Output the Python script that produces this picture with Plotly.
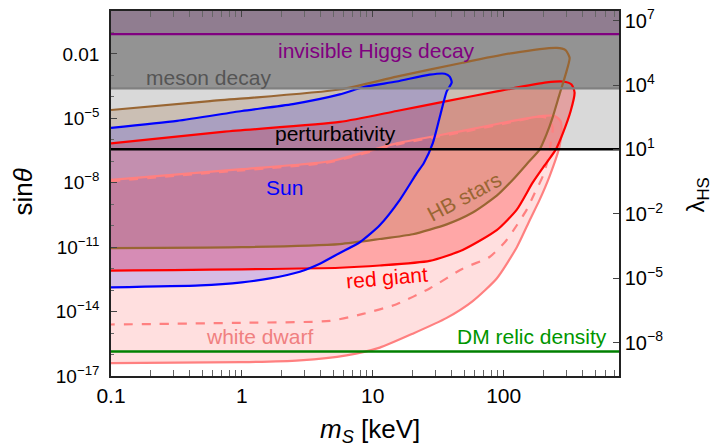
import plotly.graph_objects as go

# ---------------- data ----------------
x_min_keV, x_max_keV = 0.1, 760.0
sin_min, sin_max = 1e-17, 1.0
lam_offset_dex = 7.45          # log10(lambda_HS) - log10(sin theta)

# horizontal bounds (sin theta)
invisible_higgs_sin = 0.083
meson_sin = 2.5e-4
perturb_sin = 3.6e-7
dm_relic_sin = 1.4e-16

# closed exclusion contours: (m_S [keV], sin theta), upper-left -> right -> lower-left
sun_mass = [0.1, 0.32, 1.0, 2.45, 5.6, 8.4, 15.2, 27.2, 35.5, 38.7, 40.1, 36.7, 32.5, 28.7,
            24.5, 21.7, 16.1, 11.3, 7.96, 5.6, 3.94, 2.77, 1.64, 1.0, 0.48, 0.1]
sun_sin = [3.6e-6, 7.6e-6, 2.2e-5, 4.6e-5, 1.3e-4, 2.8e-4, 5.2e-4, 1.09e-3, 1.2e-3, 8.8e-4, 4.7e-4,
           1.8e-4, 1.15e-5, 6.8e-7, 8.1e-8, 2.8e-8, 1.6e-9, 1.05e-10, 1.7e-11, 5.4e-12, 1.7e-12,
           7.2e-13, 3.5e-13, 2.3e-13, 1.66e-13, 1.35e-13]

hb_mass = [0.1, 0.57, 5.6, 15.2, 48.6, 117, 254, 297, 319, 297, 267, 237, 213, 188, 152, 117,
           88.5, 58, 36.7, 20.2, 11.3, 5.6, 1.0, 0.1]
hb_sin = [2.45e-5, 6.3e-5, 2.2e-4, 8.8e-4, 3.9e-3, 1.1e-2, 1.9e-2, 1.5e-2, 6.6e-3, 1.09e-3, 1.3e-4,
          1.15e-5, 1.9e-6, 3.5e-7, 8.1e-8, 1.35e-8, 2.5e-9, 4.1e-10, 1.15e-10, 4.0e-11, 2.4e-11,
          1.4e-11, 1.0e-11, 9.1e-12]

rg_mass = [0.1, 0.74, 5.6, 15.2, 36.7, 88.5, 213, 282, 330, 348, 325, 282, 250, 206, 166, 126,
           88.5, 48.6, 27.2, 11.3, 5.6, 0.1]
rg_sin = [6.8e-7, 2.4e-6, 6.8e-6, 2.2e-5, 6.3e-5, 1.8e-4, 4.7e-4, 5.2e-4, 3.8e-4, 1.6e-4, 2.2e-5,
          1.9e-6, 3.5e-7, 6.6e-8, 9.8e-9, 5.6e-10, 6.2e-11, 7.4e-12, 2.3e-12, 1.4e-12, 1.1e-12, 8.1e-13]

wd_mass = [0.1, 1.0, 4.7, 15.2, 48.6, 117, 199, 245, 272, 277, 267, 224, 188, 158, 126, 88.5,
           58, 36.7, 20.2, 11.3, 6.3, 2.77, 1.0, 0.1]
wd_sin = [1.35e-8, 4.3e-8, 1.0e-7, 6.8e-7, 2.6e-6, 7.6e-6, 1.3e-5, 1.3e-5, 7.6e-6, 3.2e-6, 4.9e-7,
          2.0e-8, 1.6e-9, 1.8e-10, 1.0e-11, 3.5e-13, 3.1e-14, 5.1e-15, 9.4e-16, 2.1e-16, 9.2e-17,
          5.4e-17, 4.4e-17, 4.0e-17]

wd_dash_mass = [0.1, 1.0, 4.7, 15.2, 48.6, 117, 188, 224, 237, 229, 217, 199, 173, 150, 126, 102,
                78, 48.6, 27.2, 15.2, 8.4, 4.7, 1.0, 0.1]
wd_dash_sin = [1.2e-8, 3.8e-8, 9e-8, 6e-7, 2.3e-6, 6.8e-6, 1.2e-5, 9.3e-6, 3.2e-6, 6.8e-7, 1.1e-7,
               2.0e-8, 3.4e-9, 5.6e-10, 1.05e-10, 1.7e-11, 3.5e-12, 1.0e-12, 1.2e-13, 2.2e-14,
               7.8e-15, 3.7e-15, 3.0e-15, 2.5e-15]

x_tick_vals = [0.1, 1, 10, 100]
x_tick_text = ["0.1", "1", "10", "100"]
y_tick_vals = [1e-2, 1e-5, 1e-8, 1e-11, 1e-14, 1e-17]
y_tick_text = ["0.01", "10<sup>−5</sup>", "10<sup>−8</sup>", "10<sup>−11</sup>",
               "10<sup>−14</sup>", "10<sup>−17</sup>"]
lam_tick_vals = [1e7, 1e4, 1e1, 1e-2, 1e-5, 1e-8]
lam_tick_text = ["10<sup>7</sup>", "10<sup>4</sup>", "10<sup>1</sup>", "10<sup>−2</sup>",
                 "10<sup>−5</sup>", "10<sup>−8</sup>"]

# ---------------- styles ----------------
FONT = "Liberation Sans, Arial, sans-serif"
C_SUN = "rgb(0,0,255)"
C_HB = "rgb(153,102,51)"
C_RG = "rgb(255,0,0)"
C_WD = "rgb(255,128,128)"
SMOOTH = 0.6

fig = go.Figure()

xs_band = [x_min_keV * 0.5, x_max_keV * 2, x_max_keV * 2, x_min_keV * 0.5]


def band(lo, hi, color):
    fig.add_trace(go.Scatter(x=xs_band + [xs_band[0]], y=[lo, lo, hi, hi, lo], mode="lines",
                             fill="toself", fillcolor=color, line=dict(width=0),
                             hoverinfo="skip", showlegend=False))


# perturbativity band (light grey, below contours)
band(perturb_sin, meson_sin, "rgb(217,217,217)")

contours = [
    (wd_mass, wd_sin, "rgba(255,128,128,0.25)"),
    (rg_mass, rg_sin, "rgba(255,0,0,0.25)"),
    (hb_mass, hb_sin, "rgba(153,102,51,0.22)"),
    (sun_mass, sun_sin, "rgba(0,0,255,0.16)"),
]
for mx, sy, fc in contours:
    fig.add_trace(go.Scatter(x=mx, y=sy, mode="lines", fill="toself", fillcolor=fc,
                             line=dict(width=0, shape="spline", smoothing=SMOOTH),
                             hoverinfo="skip", showlegend=False))

# meson decay and invisible Higgs bands
band(meson_sin, sin_max * 2, "rgba(128,128,128,0.85)")
band(invisible_higgs_sin, sin_max * 2, "rgba(128,0,128,0.15)")

# contour lines (open paths; the left side is the plot edge)
for mx, sy, col, dash in [(wd_mass, wd_sin, C_WD, "solid"),
                          (wd_dash_mass, wd_dash_sin, C_WD, "dash"),
                          (rg_mass, rg_sin, C_RG, "solid"),
                          (hb_mass, hb_sin, C_HB, "solid"),
                          (sun_mass, sun_sin, C_SUN, "solid")]:
    fig.add_trace(go.Scatter(x=mx, y=sy, mode="lines",
                             line=dict(color=col, width=2.2, dash=dash, shape="spline",
                                       smoothing=SMOOTH),
                             hoverinfo="skip", showlegend=False))

# horizontal lines
for yv, col, w in [(invisible_higgs_sin, "rgb(128,0,128)", 2.2),
                   (meson_sin, "rgb(128,128,128)", 2.2),
                   (perturb_sin, "rgb(0,0,0)", 2.5),
                   (dm_relic_sin, "rgb(0,128,0)", 2.5)]:
    fig.add_trace(go.Scatter(x=[xs_band[0], xs_band[1]], y=[yv, yv], mode="lines",
                             line=dict(color=col, width=w), hoverinfo="skip", showlegend=False))

# invisible trace to activate the right (lambda_HS) axis
fig.add_trace(go.Scatter(x=[1], y=[1], yaxis="y2", mode="markers", marker=dict(opacity=0),
                         hoverinfo="skip", showlegend=False))

# labels (annotation coordinates on log axes are log10 values)
labels = [
    ("invisible Higgs decay", 1.031, -1.82, "rgb(128,0,128)", 0),
    ("meson decay", -0.252, -3.10, "rgb(85,85,85)", 0),
    ("perturbativity", 0.718, -5.72, "rgb(0,0,0)", 0),
    ("Sun", 0.328, -8.24, C_SUN, 0),
    ("HB stars", 1.70, -8.65, C_HB, -28),
    ("red giant", 1.107, -12.41, C_RG, -5),
    ("white dwarf", 0.137, -15.17, "rgb(240,128,128)", 0),
    ("DM relic density", 2.214, -15.17, "rgb(0,150,0)", 0),
]
annotations = []
for txt, lx, ly, col, ang in labels:
    annotations.append(dict(text=txt, x=lx, y=ly, xref="x", yref="y", showarrow=False,
                            textangle=ang, font=dict(family=FONT, size=21, color=col),
                            xanchor="center", yanchor="middle"))

annotations += [
    dict(text="sin<i>θ</i>", x=-0.173, y=0.503, xref="paper", yref="paper", showarrow=False,
         textangle=-90, font=dict(family=FONT, size=26, color="black"),
         xanchor="center", yanchor="middle"),
    dict(text="<i>m</i><sub><i>S</i></sub> [keV]", x=0.51, y=-0.148, xref="paper", yref="paper",
         showarrow=False, font=dict(family=FONT, size=26, color="black"),
         xanchor="center", yanchor="middle"),
    dict(text="λ<sub>HS</sub>", x=1.154, y=0.495, xref="paper", yref="paper", showarrow=False,
         textangle=-90, font=dict(family=FONT, size=24, color="black"),
         xanchor="center", yanchor="middle"),
]

minor_x = [m * 10 ** e for e in (-1, 0, 1, 2) for m in range(2, 10) if m * 10 ** e < x_max_keV]
minor_y = [10.0 ** e for e in range(-17, 1)]

axis_line = dict(showline=True, linecolor="#222", linewidth=1.5)

fig.update_layout(
    width=712, height=447,
    margin=dict(l=111, r=93, t=6, b=71),
    paper_bgcolor="white", plot_bgcolor="white",
    font=dict(family=FONT, color="black"),
    showlegend=False,
    annotations=annotations,
    xaxis=dict(type="log", range=[-1, 2.881], tickmode="array", tickvals=x_tick_vals,
               ticktext=x_tick_text, ticks="inside", ticklen=6, tickwidth=1.2, tickcolor="#444",
               mirror="allticks", showgrid=False, zeroline=False,
               tickfont=dict(family=FONT, size=21, color="black"),
               minor=dict(tickmode="array", tickvals=minor_x, ticks="inside", ticklen=3,
                          tickcolor="#666", tickwidth=1, showgrid=False),
               **axis_line),
    yaxis=dict(type="log", range=[-17, 0], tickmode="array", tickvals=y_tick_vals,
               ticktext=y_tick_text, ticks="inside", ticklen=6, tickwidth=1.2, tickcolor="#444",
               showgrid=False, zeroline=False, mirror=False, ticklabelstandoff=6,
               tickfont=dict(family=FONT, size=19, color="black"),
               minor=dict(tickmode="array", tickvals=minor_y, ticks="inside", ticklen=3,
                          tickcolor="#666", tickwidth=1, showgrid=False),
               **axis_line),
    yaxis2=dict(type="log", overlaying="y", side="right",
                range=[-17 + lam_offset_dex, 0 + lam_offset_dex],
                tickmode="array", tickvals=lam_tick_vals, ticktext=lam_tick_text,
                ticks="inside", ticklen=6, tickwidth=1.2, tickcolor="#444",
                showgrid=False, zeroline=False,
                tickfont=dict(family=FONT, size=20, color="black"),
                **axis_line),
)

fig.write_html("out.html", config={"displayModeBar": False},
               post_script="document.body.style.margin='0px';")
